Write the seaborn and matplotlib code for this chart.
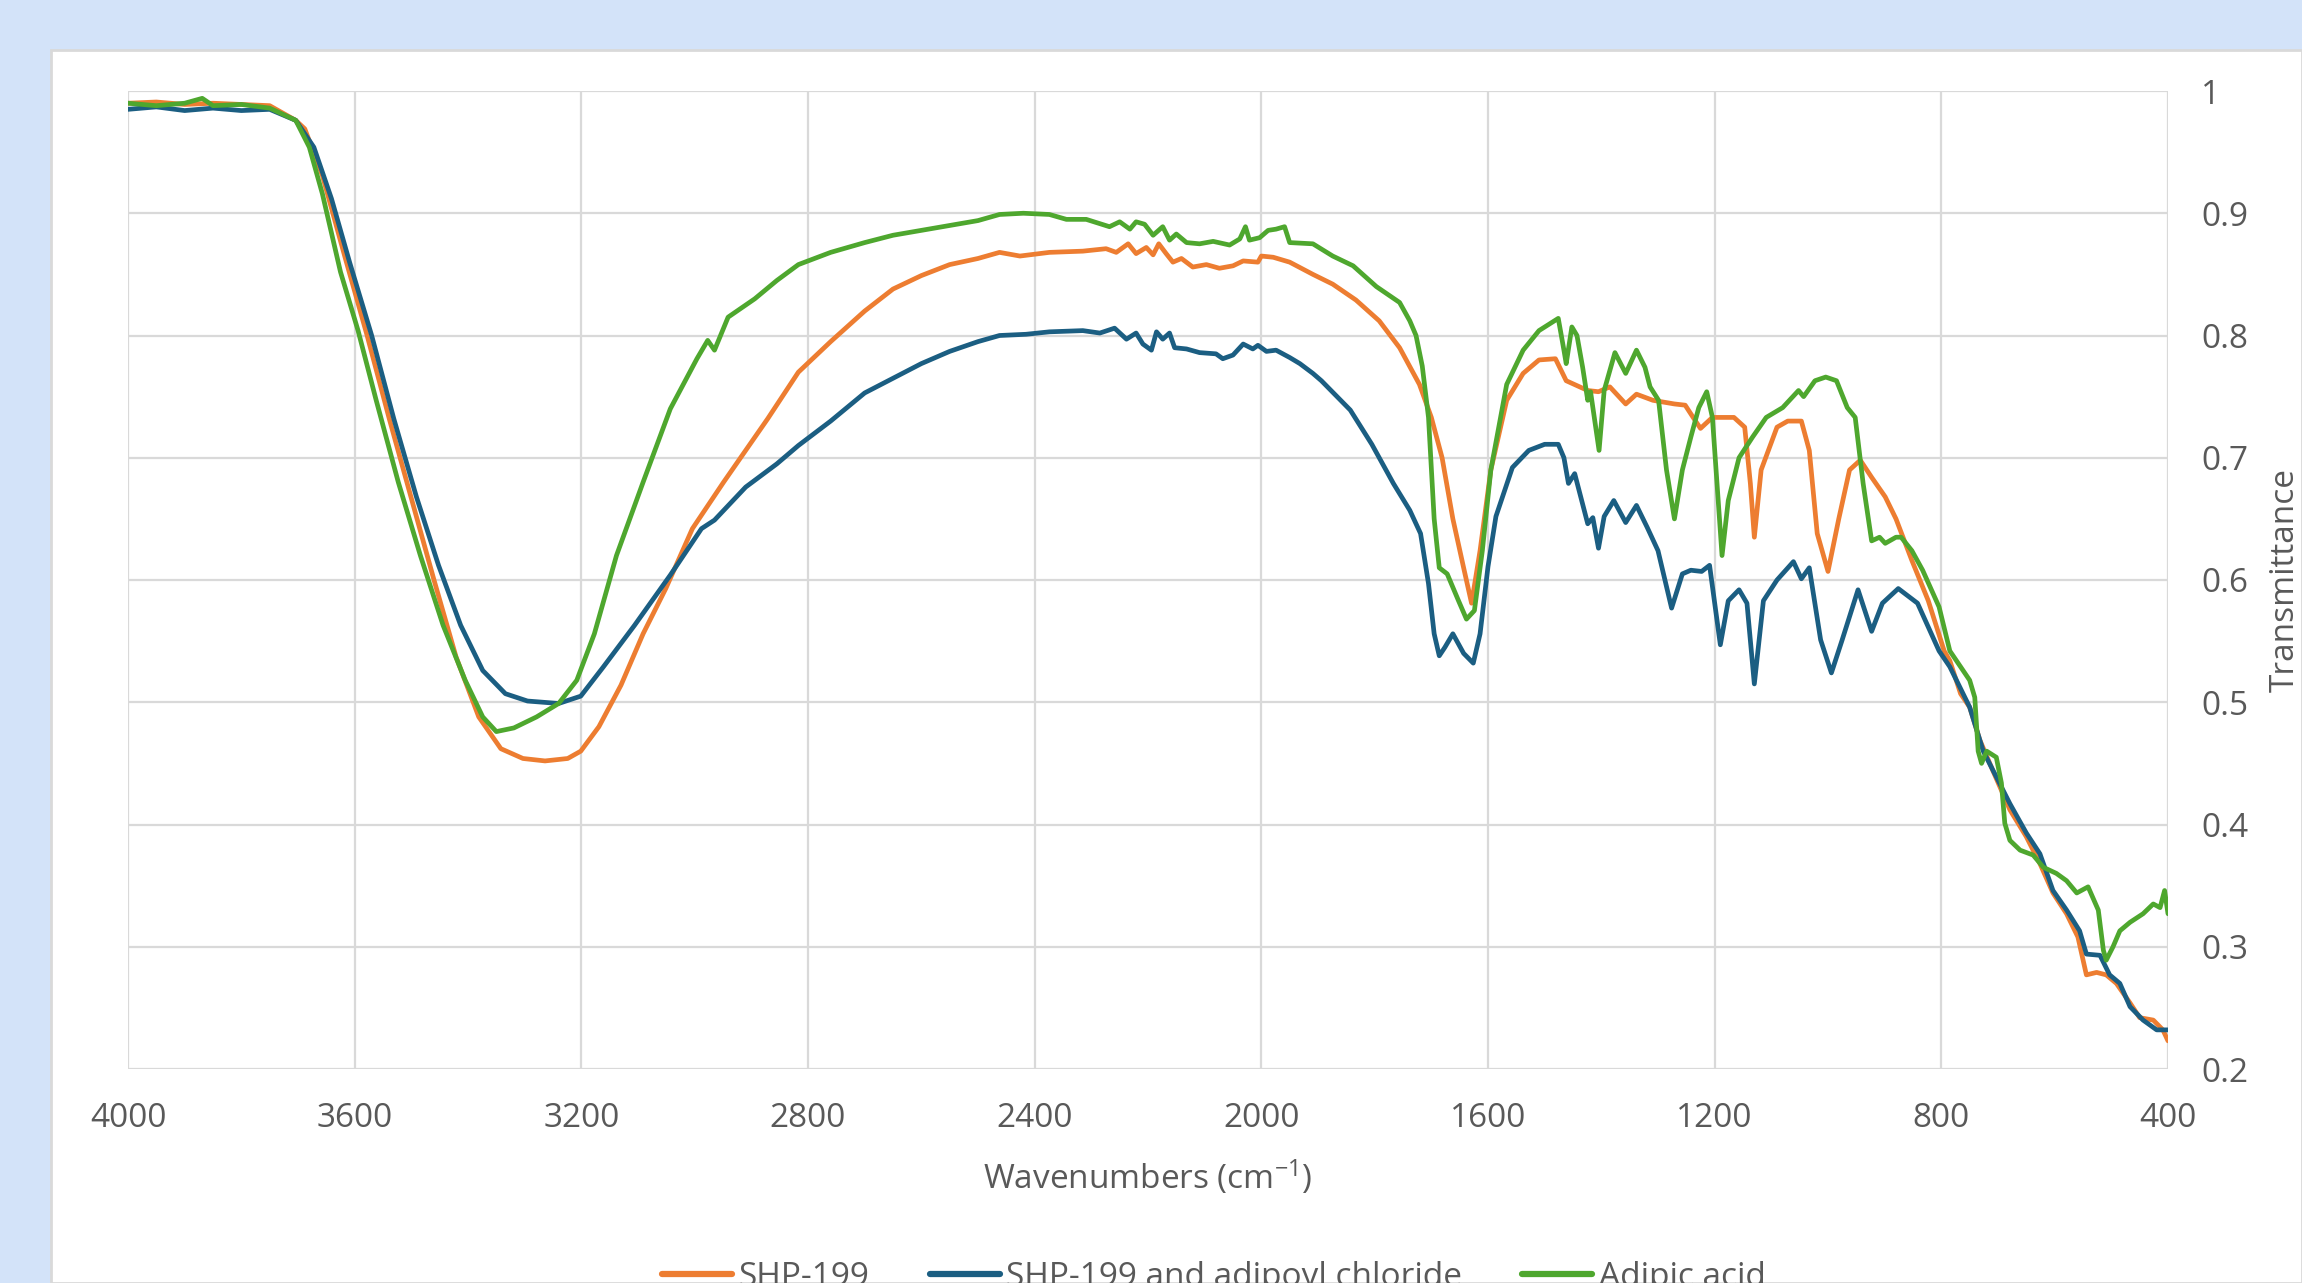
import matplotlib
matplotlib.use("Agg")
import matplotlib.pyplot as plt
import seaborn as sns
import pandas as pd
from matplotlib.patches import Rectangle

# ---------------- data ----------------
wn_shp = [4000, 3950, 3900, 3850, 3800, 3750, 3704, 3688, 3657, 3617, 3578, 3539, 3499, 3460, 3421, 3381,
          3342, 3303, 3264, 3224, 3201, 3169, 3130, 3091, 3051, 3004, 2949, 2910, 2871, 2817, 2760, 2700,
          2650, 2600, 2550, 2500, 2462, 2426, 2374, 2315, 2274, 2256, 2235, 2221, 2203, 2191, 2181, 2168,
          2156, 2141, 2121, 2097, 2074, 2050, 2032, 2006, 2000, 1979, 1950, 1909, 1874, 1833, 1792, 1756,
          1721, 1700, 1681, 1662, 1643, 1629, 1614, 1595, 1567, 1538, 1510, 1481, 1462, 1443, 1424, 1405,
          1385, 1357, 1338, 1309, 1271, 1252, 1238, 1225, 1204, 1166, 1147, 1137, 1130, 1118, 1090, 1071,
          1047, 1033, 1019, 1000, 981, 962, 943, 923, 899, 880, 852, 823, 795, 785, 766, 750, 732, 709,
          679, 650, 626, 603, 579, 559, 544, 526, 509, 491, 467, 450, 426, 409, 400]
t_shp = [0.990, 0.991, 0.989, 0.990, 0.989, 0.988, 0.976, 0.969, 0.931, 0.864, 0.800, 0.732, 0.665, 0.600, 0.537, 0.488,
         0.462, 0.454, 0.452, 0.454, 0.460, 0.480, 0.514, 0.556, 0.593, 0.642, 0.680, 0.706, 0.732, 0.770, 0.795, 0.820,
         0.838, 0.849, 0.858, 0.863, 0.868, 0.865, 0.868, 0.869, 0.871, 0.868, 0.875, 0.867, 0.872, 0.866, 0.875, 0.867,
         0.860, 0.863, 0.856, 0.858, 0.855, 0.857, 0.861, 0.860, 0.865, 0.864, 0.860, 0.850, 0.842, 0.829, 0.812, 0.790,
         0.760, 0.733, 0.700, 0.650, 0.610, 0.581, 0.624, 0.690, 0.747, 0.769, 0.780, 0.781, 0.763, 0.759, 0.755, 0.754,
         0.758, 0.744, 0.752, 0.747, 0.744, 0.743, 0.733, 0.724, 0.733, 0.733, 0.725, 0.679, 0.635, 0.690, 0.725, 0.730,
         0.730, 0.706, 0.638, 0.607, 0.650, 0.690, 0.698, 0.684, 0.668, 0.650, 0.616, 0.583, 0.542, 0.534, 0.507, 0.496, 0.469, 0.444,
         0.412, 0.390, 0.368, 0.344, 0.327, 0.308, 0.277, 0.279, 0.277, 0.270, 0.254, 0.242, 0.240, 0.232, 0.223]

wn_adc = [4000, 3950, 3900, 3850, 3800, 3750, 3704, 3672, 3641, 3609, 3570, 3531, 3491, 3452, 3413, 3374,
          3334, 3295, 3240, 3201, 3161, 3106, 3043, 2988, 2965, 2910, 2855, 2817, 2760, 2700, 2650, 2600,
          2550, 2500, 2462, 2415, 2374, 2315, 2285, 2259, 2238, 2221, 2209, 2194, 2185, 2174, 2162, 2153,
          2132, 2109, 2080, 2068, 2050, 2032, 2015, 2006, 1991, 1974, 1950, 1932, 1909, 1894, 1843, 1805,
          1767, 1738, 1719, 1705, 1695, 1686, 1676, 1662, 1643, 1626, 1614, 1600, 1586, 1557, 1528, 1500,
          1476, 1466, 1458, 1447, 1433, 1424, 1415, 1405, 1395, 1378, 1357, 1338, 1319, 1300, 1276, 1257,
          1242, 1223, 1209, 1190, 1176, 1157, 1143, 1130, 1114, 1090, 1061, 1047, 1033, 1013, 994, 975,
          947, 923, 904, 876, 842, 804, 785, 750, 726, 703, 679, 650, 626, 603, 579, 556, 544, 520,
          503, 485, 467, 444, 420, 400]
t_adc = [0.985, 0.987, 0.984, 0.986, 0.984, 0.985, 0.976, 0.954, 0.912, 0.860, 0.800, 0.732, 0.668, 0.612, 0.563, 0.526,
         0.507, 0.501, 0.499, 0.505, 0.529, 0.563, 0.604, 0.642, 0.649, 0.676, 0.695, 0.710, 0.730, 0.753, 0.765, 0.777,
         0.787, 0.795, 0.800, 0.801, 0.803, 0.804, 0.802, 0.806, 0.797, 0.802, 0.793, 0.788, 0.803, 0.797, 0.802, 0.790,
         0.789, 0.786, 0.785, 0.781, 0.784, 0.793, 0.789, 0.792, 0.787, 0.788, 0.782, 0.777, 0.769, 0.763, 0.739, 0.711,
         0.679, 0.657, 0.638, 0.597, 0.556, 0.538, 0.545, 0.556, 0.540, 0.532, 0.556, 0.611, 0.652, 0.692, 0.706, 0.711,
         0.711, 0.700, 0.679, 0.687, 0.662, 0.646, 0.651, 0.626, 0.652, 0.665, 0.647, 0.661, 0.643, 0.624, 0.577, 0.605,
         0.608, 0.607, 0.612, 0.547, 0.583, 0.592, 0.581, 0.515, 0.583, 0.600, 0.615, 0.601, 0.610, 0.551, 0.524, 0.551,
         0.592, 0.558, 0.581, 0.593, 0.581, 0.542, 0.529, 0.496, 0.460, 0.439, 0.417, 0.393, 0.376, 0.346, 0.330, 0.313, 0.294, 0.293,
         0.277, 0.270, 0.251, 0.240, 0.232, 0.232]

wn_adip = [4000, 3950, 3900, 3869, 3850, 3800, 3750, 3704, 3680, 3657, 3625, 3594, 3562, 3523, 3484, 3444,
           3405, 3374, 3350, 3319, 3279, 3240, 3208, 3177, 3138, 3091, 3043, 2996, 2977, 2965, 2941, 2894,
           2855, 2817, 2760, 2700, 2650, 2600, 2550, 2500, 2462, 2420, 2374, 2344, 2309, 2268, 2250, 2232,
           2221, 2206, 2191, 2174, 2162, 2150, 2132, 2109, 2085, 2056, 2038, 2028, 2021, 2003, 1988, 1974,
           1959, 1950, 1909, 1874, 1838, 1797, 1756, 1738, 1727, 1716, 1705, 1695, 1686, 1672, 1652, 1638,
           1624, 1610, 1595, 1567, 1538, 1510, 1476, 1466, 1462, 1452, 1443, 1433, 1424, 1419, 1404, 1395,
           1376, 1357, 1338, 1323, 1314, 1299, 1285, 1271, 1257, 1242, 1228, 1214, 1204, 1187, 1176, 1157,
           1133, 1109, 1080, 1052, 1043, 1023, 1004, 985, 966, 952, 938, 923, 909, 899, 880, 871,
           852, 833, 804, 785, 750, 741, 735, 729, 720, 703, 694, 688, 679, 661, 638, 620,
           597, 579, 561, 541, 523, 514, 509, 497, 485, 467, 444, 426, 414, 406, 400]
t_adip = [0.990, 0.988, 0.990, 0.994, 0.988, 0.989, 0.986, 0.976, 0.954, 0.916, 0.852, 0.804, 0.747, 0.680, 0.620, 0.563,
          0.518, 0.488, 0.476, 0.479, 0.488, 0.499, 0.518, 0.556, 0.620, 0.680, 0.740, 0.781, 0.796, 0.788, 0.815, 0.830,
          0.845, 0.858, 0.868, 0.876, 0.882, 0.886, 0.890, 0.894, 0.899, 0.900, 0.899, 0.895, 0.895, 0.889, 0.893, 0.887,
          0.893, 0.891, 0.882, 0.889, 0.878, 0.883, 0.876, 0.875, 0.877, 0.874, 0.879, 0.889, 0.878, 0.880, 0.886, 0.887,
          0.889, 0.876, 0.875, 0.865, 0.857, 0.840, 0.827, 0.812, 0.800, 0.775, 0.733, 0.650, 0.610, 0.605, 0.583, 0.568,
          0.575, 0.624, 0.690, 0.760, 0.788, 0.804, 0.814, 0.788, 0.777, 0.807, 0.800, 0.774, 0.747, 0.754, 0.706, 0.755,
          0.786, 0.769, 0.788, 0.774, 0.758, 0.747, 0.690, 0.650, 0.690, 0.717, 0.741, 0.754, 0.733, 0.620, 0.665, 0.700,
          0.717, 0.733, 0.741, 0.755, 0.750, 0.763, 0.766, 0.763, 0.741, 0.733, 0.679, 0.632, 0.635, 0.630, 0.635, 0.635,
          0.624, 0.608, 0.578, 0.542, 0.518, 0.504, 0.460, 0.450, 0.460, 0.455, 0.434, 0.401, 0.387, 0.379, 0.375, 0.365,
          0.360, 0.354, 0.344, 0.349, 0.330, 0.297, 0.289, 0.300, 0.313, 0.320, 0.327, 0.335, 0.332, 0.346, 0.327]

series_names = ["SHP-199", "SHP-199 and adipoyl chloride", "Adipic acid"]
series_colors = ["#ED7D31", "#1B5E82", "#4EA72E"]
x_ticks = [4000, 3600, 3200, 2800, 2400, 2000, 1600, 1200, 800, 400]
y_ticks = [0.2, 0.3, 0.4, 0.5, 0.6, 0.7, 0.8, 0.9, 1.0]
y_tick_labels = ["0.2", "0.3", "0.4", "0.5", "0.6", "0.7", "0.8", "0.9", "1"]

# ---------------- style ----------------
sns.set_style("whitegrid")
plt.rcParams["font.family"] = ["Open Sans", "DejaVu Sans"]
plt.rcParams["mathtext.fontset"] = "custom"
plt.rcParams["mathtext.rm"] = "Open Sans"
plt.rcParams["mathtext.it"] = "Open Sans"
TXT = "#595959"
GRID = "#D9D9D9"

W, H = 2302, 1283
fig = plt.figure(figsize=(W / 100, H / 100), dpi=100, facecolor="#D3E3F9")

# white chart panel (behind the axes)
fig.patches.append(Rectangle((51 / W, 0), 1 - 51 / W, 1 - 50 / H, transform=fig.transFigure,
                             facecolor="white", edgecolor=GRID, linewidth=2, zorder=-10))

ax = fig.add_axes([128 / W, 1 - 1069 / H, (2168 - 128) / W, (1069 - 91) / H])
ax.set_zorder(5)
ax.set_facecolor("white")

df = pd.concat([
    pd.DataFrame({"wn": wn_shp, "T": t_shp, "series": series_names[0]}),
    pd.DataFrame({"wn": wn_adc, "T": t_adc, "series": series_names[1]}),
    pd.DataFrame({"wn": wn_adip, "T": t_adip, "series": series_names[2]}),
])
sns.lineplot(data=df, x="wn", y="T", hue="series", hue_order=series_names,
             palette=series_colors, estimator=None, sort=False, linewidth=3.4, ax=ax)

ax.set_xlim(4000, 400)
ax.set_ylim(0.2, 1.0)
ax.set_xticks(x_ticks)
ax.set_xticklabels([str(v) for v in x_ticks])
ax.set_yticks(y_ticks)
ax.set_yticklabels(y_tick_labels)
ax.yaxis.tick_right()
ax.tick_params(axis="both", length=0, labelsize=24, labelcolor=TXT)
ax.tick_params(axis="x", pad=24)
ax.tick_params(axis="y", pad=24)
ax.grid(True, color=GRID, linewidth=1.6)
for s in ax.spines.values():
    s.set_visible(False)

ax.set_xlabel("Wavenumbers (cm$^{-1}$)", fontsize=24, color=TXT)
ax.xaxis.set_label_coords(0.5, (1069 - 1177) / 978)
ax.xaxis.label.set_va("center")
ax.yaxis.set_label_position("right")
ax.set_ylabel("Transmittance", fontsize=24, color=TXT, rotation=90)
ax.yaxis.set_label_coords((2285 - 128) / 2040, 0.5)
ax.yaxis.label.set_va("center")

handles, labels = ax.get_legend_handles_labels()
ax.get_legend().remove()
leg = fig.legend(handles, labels, loc="center", bbox_to_anchor=(1214 / W, 1 - 1277 / H), ncol=3,
                 frameon=False, fontsize=24, handlelength=2.1, handletextpad=0.2, columnspacing=1.8)
for t in leg.get_texts():
    t.set_color(TXT)
for lh in leg.get_lines():
    lh.set_linewidth(4.5)

fig.savefig("out.png", dpi=100, facecolor=fig.get_facecolor())
